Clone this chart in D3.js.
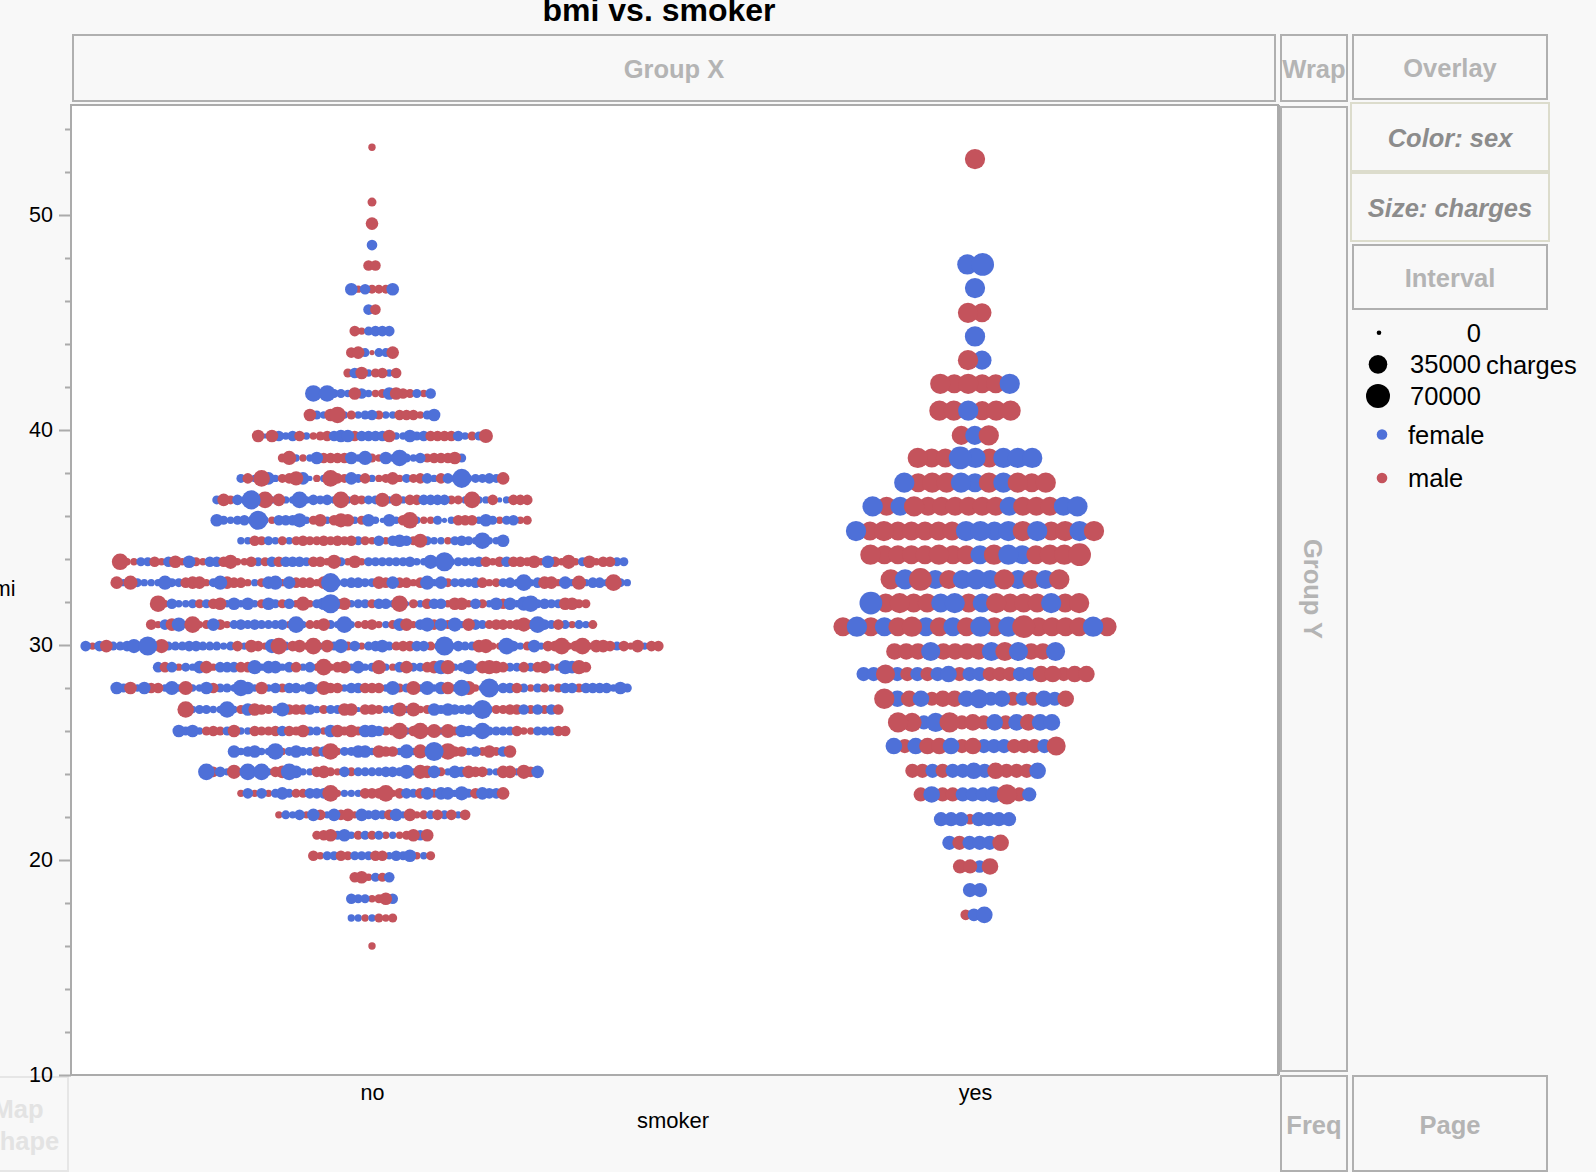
<!DOCTYPE html>
<html>
<head>
<meta charset="utf-8">
<script src="https://cdn.jsdelivr.net/npm/d3@7"></script>
<style>
  html, body { margin: 0; padding: 0; background: #f8f8f8; overflow: hidden; }
  text { font-family: "Liberation Sans", Arial, sans-serif; }
</style>
</head>
<body>
<script>
// One letter per dot, left to right along a bmi row.
// lowercase = female, uppercase = male, the letter is the charges band.
const chargeBands = { a: 1500, b: 7000, c: 11000, d: 15000, e: 20000, f: 24000, g: 30000, h: 38000, i: 46000, j: 62000 };

const categories = ['no', 'yes'];
const yMajor = [10, 20, 30, 40, 50];
const yMinor = [12, 14, 16, 18, 22, 24, 26, 28, 32, 34, 36, 38, 42, 44, 46, 48, 52, 54];
const legendCharges = [0, 35000, 70000];
const legendSex = ['female', 'male'];

const noBmi = [53.15, 50.6, 49.6, 48.6, 47.65, 46.55, 45.6, 44.6, 43.6, 42.65, 41.7, 40.7, 39.72, 38.7, 37.75, 36.75, 35.8, 34.85,
  33.87, 32.9, 31.92, 30.95, 29.95, 28.97, 28, 27, 26, 25.05, 24.1, 23.1, 22.1, 21.15, 20.2, 19.2, 18.2, 17.3, 16];
const noMarks = [
  'B', 'C', 'E', 'd', 'DD', 'eBdCCCe', 'dD', 'DBcddd', 'DEcAccE', 'CdEbCDbD',
  'gbgccbEdbBCeEDCcBd',
  'EcbEGbCbcdCbbDDDBce',
  'EaEdbdDbBCDdeeDddddEbbecdDDDDdbCcF',
  'CFbBbeDDDDebfCBebgcbdCDDDEc',
  'cDbGebCDFeaBbGDCecDbBCEBcCDdbDdbhbccdcE',
  'cECdbhbGbEbbgbdcdbGbDCccFbEbDDddddCCbGbbDabDDD',
  'ecbcdbhbBdddfbCEbDFEbCebaebDGbBBcabDDDbecBcdBC',
  'bbDCcbCbCDCCDCDCDcCBdBdedCFcbbBcdcbgbbe',
  'GBBccDBdEBeCBddDFBBDcCdDdddcDDBFcBEBc' + 'cccccdbbfbhbcccdDBDdDDCEBeDBFBcEBDDcc',
  'EbFcbbbfccDEEBcfEDDBbCefBeDDDBEhbcddc' + 'cEDeDDBDfbeCcccdDBCcdbgbdEEBebFbddbGcb',
  'GBdbbcCcDEbebebCecCdBFBcehDEbcc' + 'CddbGaCbDddBEEBdCbeDebfgcdccEECC',
  'DBdEfbGBCeDBcdcdcccdBgbCCEcbgbBC' + 'DBbCeEBdfDeCfbEdcCDDCDFCgdcDcBcbC',
  'dBdEccdfbhcFcccddcccbcDbEDBfGcDEBGbEcfCdBc' + 'decCDDddCbhbdccEFBBgdbCebDDGBDGBEEDcDBEbDD',
  'dDdBcbeEBdddDDfbeebdDbdBGBDEbeb' + 'cFbBdEccDEfFbcfbEFEDccDcDEbBfeFD',
  'ecEbeDDbfbFbbeDccbgebEbdCddbebFDDbddDD' + 'DbfCcFbfbeEbgFBbhbddDcBcCbCddCddddbec',
  'GbccbbgbCeEDCbfDDDdbCccEEaDD' + 'CbcFbFBCecedcdchbCCDDdCdCdD',
  'ecebCDCcEbbDCCDdDCEccBeECECee' + 'dCCGbDGbFbFCedbgccccDBBcccDD',
  'ebdebbgBceccDdGBccee' + 'bEDDbfbFbhBGDDbdCECdE',
  'gDdbFbgbgbDEgebbDECBdCccc' + 'cddcfbFEeCbedEDDbbEEbFDe',
  'BdBdBcecCCdddGBbbbDD' + 'DGBDdcDeCeebfcDeddE',
  'BcbdBeDbeDEBec' + 'dcDebEBCcDcDbD',
  'CDEcebCc' + 'CcBbBCEdE',
  'DBccDCcc' + 'cDDbdceBbC',
  'DEBcCd',
  'dccBCEd',
  'bbBbCBC',
  'B'
];

const yesBmi = [52.6, 47.7, 46.6, 45.45, 44.35, 43.25, 42.15, 40.9, 39.75, 38.7, 37.55, 36.45, 35.3, 34.2, 33.05, 31.95, 30.85, 29.7,
  28.65, 27.5, 26.4, 25.3, 24.15, 23.05, 21.9, 20.8, 19.7, 18.6, 17.45];
const yesMarks = [
  'I', 'ij', 'i', 'IH', 'i', 'Ih', 'IHIHHi', 'IIiHII', 'HhI', 'IHHjiHiii',
  'iHIIihIiIHI',
  'iHhIHHHHHHhHHHhi',
  'iHIHHHHHiihiIiHIiI',
  'IHHHHIHHhIihHIIJ',
  'IiJhHhihIhHhI',
  'jHIHHhiHhIHHHiHI',
  'HiHhHIhHhHiHiJHHHHiH',
  'GGGhGGGGhHhGGh',
  'ffHfFfFfgFffFFFffGGFGG',
  'IgGgFGGghfgFfFgfG',
  'IHfhIFGFgFgGgg',
  'gFgGGgFGfffFFFfH',
  'FFfFffgfGFFFg',
  'FgFFfffgIFf',
  'fffDffff',
  'fFfffG',
  'FFeG',
  'ff',
  'Deg'
];

const W = 1596, H = 1172;
const plot = { left: 71, right: 1278, top: 105, bottom: 1075 };
const colors = { female: '#4e70d8', male: '#c4535c' };
const greyLine = '#ababab';

const svg = d3.select('body').append('svg')
  .attr('width', W).attr('height', H)
  .style('display', 'block');

svg.append('rect').attr('width', W).attr('height', H).attr('fill', '#f8f8f8');

// Scales
const y = d3.scaleLinear().domain([10, 50]).range([plot.bottom, 215]);
const x = d3.scalePoint().domain(categories).range([372, 975]);
const r = d3.scaleLinear().domain(legendCharges).range([2.3, 9.3, 12]);

// Drop zone boxes around the plot
const boxes = [
  { label: 'Group X', x0: 73, x1: 1275, y0: 35, y1: 101 },
  { label: 'Wrap', x0: 1281, x1: 1347, y0: 35, y1: 101 },
  { label: 'Overlay', x0: 1353, x1: 1547, y0: 35, y1: 99 },
  { label: 'Color: sex', x0: 1351, x1: 1549, y0: 103, y1: 171, on: true },
  { label: 'Size: charges', x0: 1351, x1: 1549, y0: 173, y1: 241, on: true },
  { label: 'Interval', x0: 1353, x1: 1547, y0: 245, y1: 309 },
  { label: 'Freq', x0: 1281, x1: 1347, y0: 1076, y1: 1171 },
  { label: 'Page', x0: 1353, x1: 1547, y0: 1076, y1: 1171 }
];

svg.selectAll('rect.box').data(boxes).join('rect')
  .attr('class', 'box')
  .attr('x', d => d.x0).attr('y', d => d.y0)
  .attr('width', d => d.x1 - d.x0).attr('height', d => d.y1 - d.y0)
  .attr('fill', 'none')
  .attr('stroke', d => d.on ? '#dcdccc' : '#b0b0b0')
  .attr('stroke-width', 2);

svg.selectAll('text.boxlabel').data(boxes).join('text')
  .attr('class', 'boxlabel')
  .attr('x', d => (d.x0 + d.x1) / 2)
  .attr('y', d => (d.y0 + d.y1) / 2 + 10)
  .attr('text-anchor', 'middle')
  .attr('font-size', 25.5)
  .attr('font-weight', 'bold')
  .attr('font-style', d => d.on ? 'italic' : 'normal')
  .attr('fill', d => d.on ? '#8c8c8c' : '#b4b4b4')
  .text(d => d.label);

// Group Y box with rotated label
svg.append('rect').attr('x', 1281).attr('y', 107).attr('width', 66).attr('height', 964)
  .attr('fill', 'none').attr('stroke', '#b0b0b0').attr('stroke-width', 2);
svg.append('text')
  .attr('transform', 'translate(1304,589) rotate(90)')
  .attr('text-anchor', 'middle')
  .attr('font-size', 25.5).attr('font-weight', 'bold').attr('fill', '#b4b4b4')
  .text('Group Y');

// Map Shape box, runs off the left edge
svg.append('rect').attr('x', -20).attr('y', 1077).attr('width', 88).attr('height', 94)
  .attr('fill', 'none').attr('stroke', '#e6e6e6').attr('stroke-width', 2);
svg.selectAll('text.map').data([['Map', 1118, 18], ['Shape', 1150, 21]]).join('text')
  .attr('class', 'map')
  .attr('x', d => d[2]).attr('y', d => d[1])
  .attr('text-anchor', 'middle')
  .attr('font-size', 25.5).attr('font-weight', 'bold').attr('fill', '#e3e3e3')
  .text(d => d[0]);

// Plot area
svg.append('rect')
  .attr('x', plot.left).attr('y', plot.top)
  .attr('width', plot.right - plot.left).attr('height', plot.bottom - plot.top)
  .attr('fill', '#fff').attr('stroke', greyLine).attr('stroke-width', 2);
svg.append('line')
  .attr('x1', plot.right + 0.5).attr('x2', plot.right + 0.5)
  .attr('y1', plot.top).attr('y2', plot.bottom)
  .attr('stroke', greyLine).attr('stroke-width', 3);

// Axes
const yAxisMajor = svg.append('g')
  .attr('transform', `translate(${plot.left},0)`)
  .call(d3.axisLeft(y).tickValues(yMajor).tickSize(12).tickPadding(6));
yAxisMajor.select('.domain').remove();
yAxisMajor.selectAll('line').attr('stroke', greyLine).attr('stroke-width', 2);
yAxisMajor.selectAll('text')
  .attr('font-size', 21.5).attr('font-family', '"Liberation Sans", Arial, sans-serif').attr('fill', '#000');

const yAxisMinor = svg.append('g')
  .attr('transform', `translate(${plot.left},0)`)
  .call(d3.axisLeft(y).tickValues(yMinor).tickSize(6).tickFormat(''));
yAxisMinor.select('.domain').remove();
yAxisMinor.selectAll('line').attr('stroke', greyLine).attr('stroke-width', 2);

const xAxis = svg.append('g')
  .attr('transform', `translate(0,${plot.bottom})`)
  .call(d3.axisBottom(x).tickSize(0).tickPadding(10));
xAxis.select('.domain').remove();
xAxis.selectAll('text')
  .attr('font-size', 21.5).attr('font-family', '"Liberation Sans", Arial, sans-serif').attr('fill', '#000');

// Titles
svg.append('text').attr('x', 659).attr('y', 21).attr('text-anchor', 'middle')
  .attr('font-size', 32).attr('font-weight', 'bold').attr('fill', '#000')
  .text('bmi vs. smoker');
svg.append('text').attr('x', 673).attr('y', 1128).attr('text-anchor', 'middle')
  .attr('font-size', 22).attr('fill', '#000').text('smoker');
svg.append('text').attr('x', 15.5).attr('y', 596).attr('text-anchor', 'end')
  .attr('font-size', 21.5).attr('fill', '#000').text('bmi');

// Turn the row strings into dots. "no" rows use a fixed spacing,
// in "yes" the spacing follows the size of the two neighbours.
function buildRows(group, bmis, marks) {
  const dots = [];
  bmis.forEach((bmi, i) => {
    const row = marks[i].split('').map(ch => ({
      group: group,
      bmi: bmi,
      sex: ch === ch.toLowerCase() ? 'female' : 'male',
      charges: chargeBands[ch.toLowerCase()]
    }));
    let pos = 0;
    row.forEach((d, j) => {
      if (j > 0) {
        pos += group === 'no' ? 6.9 : 0.71 * (r(row[j - 1].charges) + r(d.charges));
      }
      d.offset = pos;
    });
    row.forEach(d => { d.offset -= pos / 2; dots.push(d); });
  });
  return dots;
}

const dots = buildRows('no', noBmi, noMarks).concat(buildRows('yes', yesBmi, yesMarks));
dots.sort((a, b) => a.charges - b.charges); // big ones on top

svg.append('g').selectAll('circle').data(dots).join('circle')
  .attr('cx', d => x(d.group) + d.offset)
  .attr('cy', d => y(d.bmi))
  .attr('r', d => r(d.charges))
  .attr('fill', d => colors[d.sex]);

// Legend
const legendY = d3.scalePoint().domain(legendCharges).range([332.7, 396]);
const sizeLegend = svg.append('g');
sizeLegend.selectAll('circle').data(legendCharges).join('circle')
  .attr('cx', d => d === 0 ? 1379 : 1378)
  .attr('cy', d => legendY(d))
  .attr('r', d => r(d))
  .attr('fill', '#000');
sizeLegend.selectAll('text').data(legendCharges).join('text')
  .attr('x', 1481)
  .attr('y', d => legendY(d) + 9)
  .attr('text-anchor', 'end')
  .attr('font-size', 25.5)
  .attr('fill', '#000')
  .text(d => d);
svg.append('text').attr('x', 1486).attr('y', 373.5)
  .attr('font-size', 25.5).attr('fill', '#000').text('charges');

const sexY = d3.scalePoint().domain(legendSex).range([434.5, 478]);
svg.append('g').selectAll('circle').data(legendSex).join('circle')
  .attr('cx', 1382).attr('cy', d => sexY(d)).attr('r', 5.3)
  .attr('fill', d => colors[d]);
svg.append('g').selectAll('text').data(legendSex).join('text')
  .attr('x', 1408).attr('y', d => sexY(d) + 9)
  .attr('font-size', 25.5).attr('fill', '#000')
  .text(d => d);
</script>
</body>
</html>
